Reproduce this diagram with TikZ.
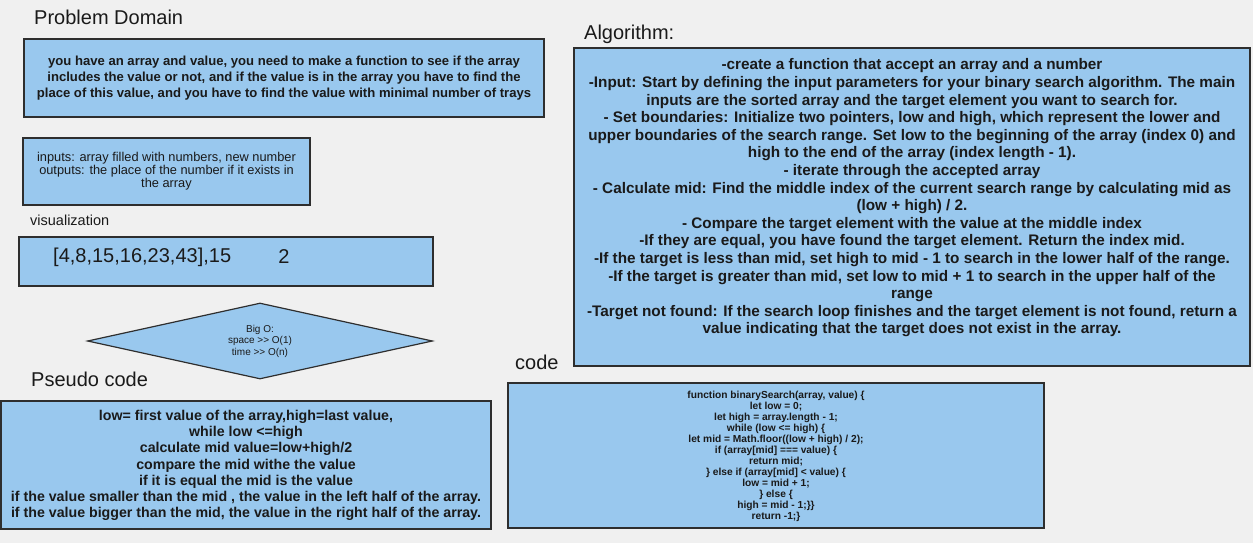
\documentclass[tikz,border=0pt]{standalone}
\usepackage{fontspec}
\setmainfont{Liberation Sans}
\usetikzlibrary{shapes.geometric}
\definecolor{bg}{HTML}{F0F0F0}
\definecolor{boxfill}{HTML}{99C8EE}
\definecolor{boxline}{HTML}{2E2E2E}
\definecolor{txt}{HTML}{1A1A1A}
\tikzset{
  box/.style={draw=boxline, fill=boxfill, line width=1.2pt, inner sep=0pt, rectangle},
  title/.style={anchor=west, inner sep=0pt, text=txt, font=\fontsize{20}{24}\selectfont},
  para/.style={inner sep=0pt, align=center, text=txt},
}
\begin{document}
\begin{tikzpicture}[x=1pt,y=-1pt]
\fill[bg] (0,0) rectangle (1253,543);
\useasboundingbox (0,0) rectangle (1253,543);

% Problem domain
\node[title] (tprob) at (34,17) {Problem Domain};
\node[box, minimum width=520pt, minimum height=78pt] (prob) at (284,78) {};
\node[para, font=\fontsize{13.1}{16}\selectfont\bfseries] (probt) at (284,78)
 {you have an array and value, you need to make a function to see if the array\\
  includes the value or not, and if the value is in the array you have to find the\\
  place of this value, and you have to find the value with minimal number of trays};

% inputs
\node[box, minimum width=287pt, minimum height=67pt] (inp) at (166.5,171.5) {};
\node[para, font=\fontsize{12.8}{13.2}\selectfont] (inpt) at (166.5,171)
 {inputs: array filled with numbers, new number\\
  outputs: the place of the number if it exists in\\
  the array};

% visualization
\node[anchor=west, inner sep=0pt, text=txt, font=\fontsize{14.5}{17}\selectfont] (tvis) at (30,220) {visualization};
\node[box, minimum width=414pt, minimum height=49pt] (vis) at (226,261.5) {};
\node[anchor=west, inner sep=0pt, text=txt, font=\fontsize{20}{24}\selectfont] (vist) at (53,257) {[4,8,15,16,23,43],15};
\node[inner sep=0pt, text=txt, font=\fontsize{20}{24}\selectfont] (visr) at (284,257) {2};

% Big O diamond
\node[diamond, draw=boxline, fill=boxfill, line width=1.2pt, inner sep=0pt,
      minimum width=345pt, minimum height=76pt] (bigo) at (260,341) {};
\node[para, font=\fontsize{10}{11.5}\selectfont] (bigot) at (260,341)
 {Big O:\\ space {>}{>} O(1)\\ time {>}{>} O(n)};

% Pseudo code
\node[title] (tpseudo) at (31,379) {Pseudo code};
\node[box, minimum width=490pt, minimum height=128pt] (pseudo) at (246,465) {};
\node[para, font=\fontsize{14.2}{16.2}\selectfont\bfseries] (pseudot) at (246,465.5)
 {low= first value of the array,high=last value,\\
  while low <=high\\
  calculate mid value=low+high/2\\
  compare the mid withe the value\\
  if it is equal the mid is the value\\
  if the value smaller than the mid , the value in the left half of the array.\\
  if the value bigger than the mid, the value in the right half of the array.};

% code
\node[title] (tcode) at (515,362) {code};
\node[box, minimum width=536pt, minimum height=145pt] (code) at (776,455.5) {};
\node[para, font=\fontsize{10.2}{11}\selectfont\bfseries] (codet) at (776,456.5)
 {function binarySearch(array, value) \{\\
  let low = 0;\\
  let high = array.length - 1;\\
  while (low <= high) \{\\
  let mid = Math.floor((low + high) / 2);\\
  if (array[mid] === value) \{\\
  return mid;\\
  \} else if (array[mid] < value) \{\\
  low = mid + 1;\\
  \} else \{\\
  high = mid - 1;\}\}\\
  return -1;\}};

% Algorithm
\node[title] (talg) at (584,34) {Algorithm:};
\node[box, minimum width=676pt, minimum height=318pt] (alg) at (912,207) {};
\node[para, font=\fontsize{15.3}{17.6}\selectfont\bfseries] (algt) at (912,198)
 {-create a function that accept an array and a number\\
  -Input: Start by defining the input parameters for your binary search algorithm. The main\\
  inputs are the sorted array and the target element you want to search for.\\
  - Set boundaries: Initialize two pointers, low and high, which represent the lower and\\
  upper boundaries of the search range. Set low to the beginning of the array (index 0) and\\
  high to the end of the array (index length - 1).\\
  - iterate through the accepted array\\
  - Calculate mid: Find the middle index of the current search range by calculating mid as\\
  (low + high) / 2.\\
  - Compare the target element with the value at the middle index\\
  -If they are equal, you have found the target element. Return the index mid.\\
  -If the target is less than mid, set high to mid - 1 to search in the lower half of the range.\\
  -If the target is greater than mid, set low to mid + 1 to search in the upper half of the\\
  range\\
  -Target not found: If the search loop finishes and the target element is not found, return a\\
  value indicating that the target does not exist in the array.};
\end{tikzpicture}
\end{document}
